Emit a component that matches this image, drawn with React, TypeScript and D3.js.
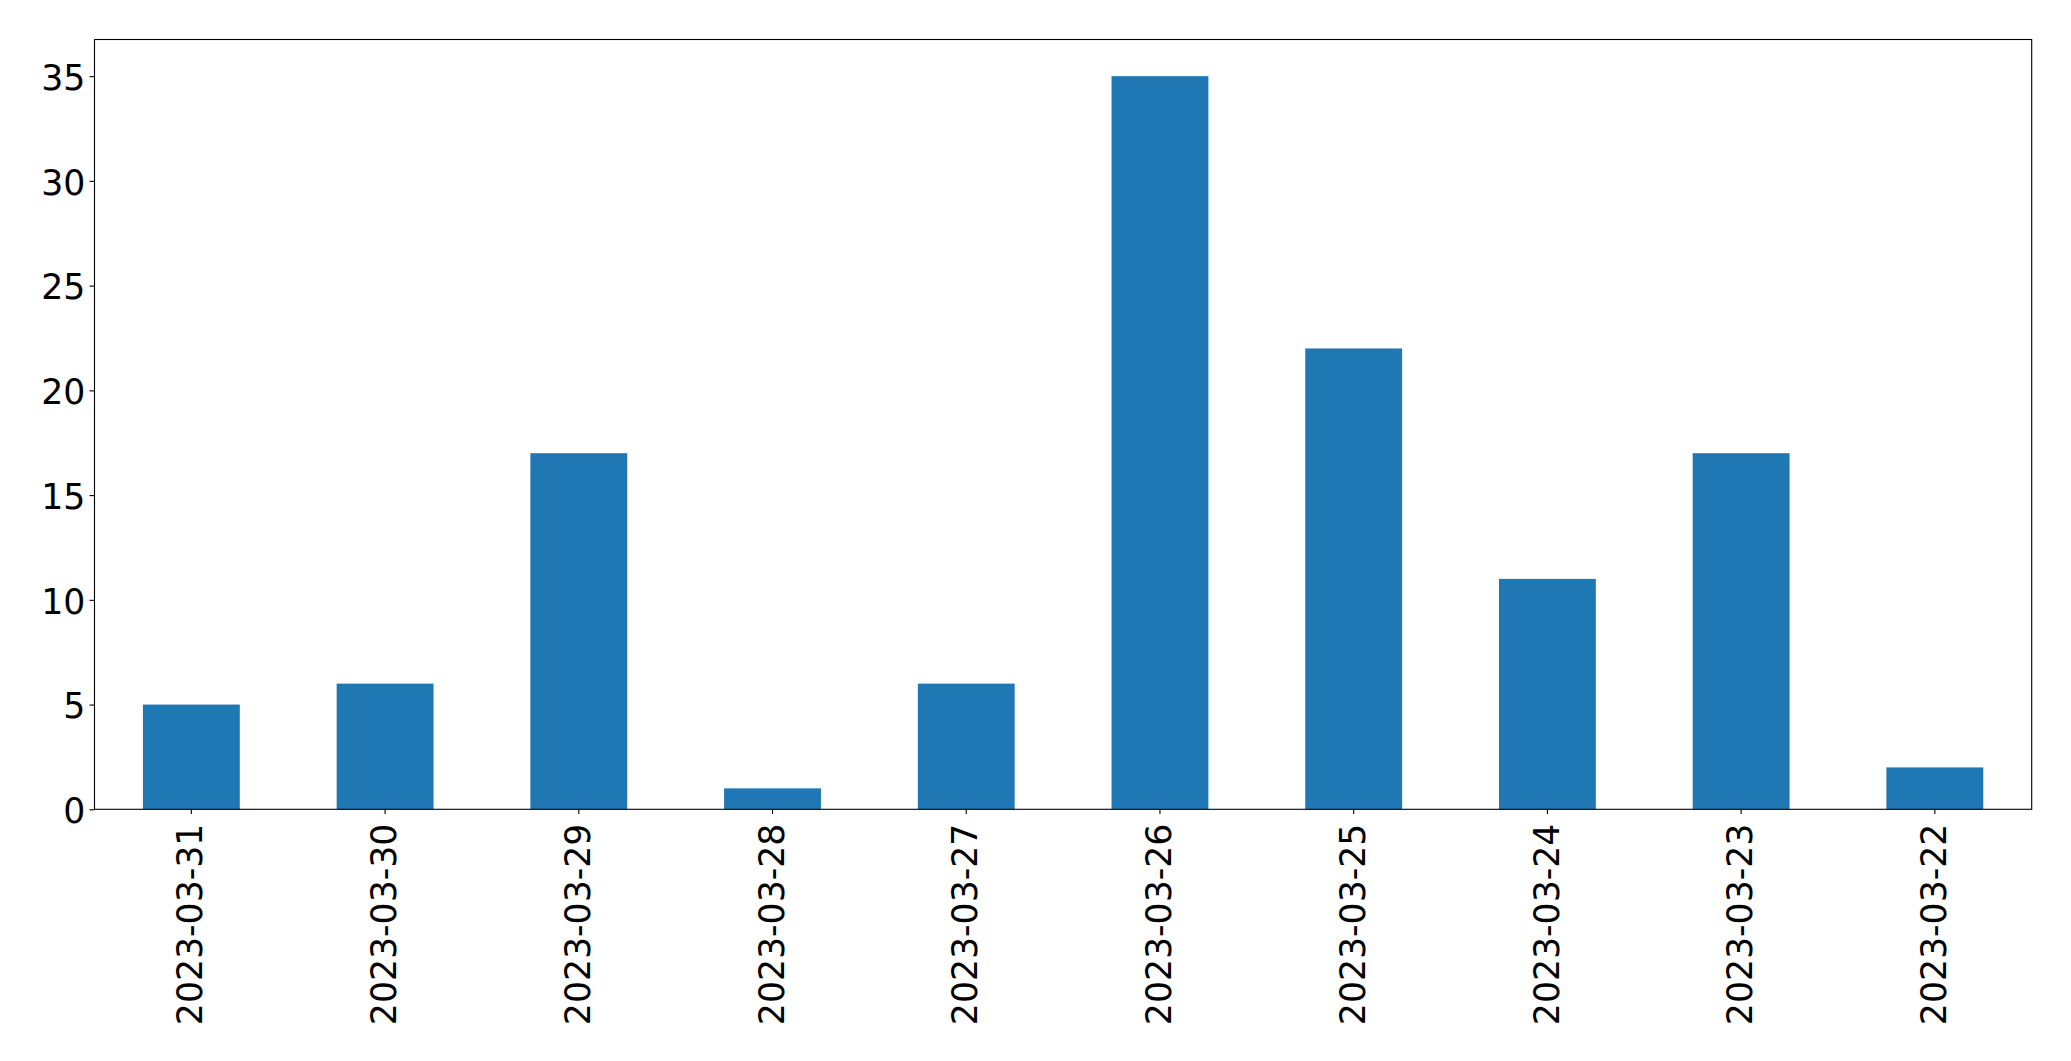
import { useEffect, useRef } from 'react';
import * as d3 from 'd3';

const categories = [
  '2023-03-31', '2023-03-30', '2023-03-29', '2023-03-28', '2023-03-27',
  '2023-03-26', '2023-03-25', '2023-03-24', '2023-03-23', '2023-03-22',
];
const counts = [5, 6, 17, 1, 6, 35, 22, 11, 17, 2];
const yTicks = [0, 5, 10, 15, 20, 25, 30, 35];

const WIDTH = 2071;
const HEIGHT = 1061;

export default function App() {
  const svgRef = useRef<SVGSVGElement>(null);

  useEffect(() => {
    if (!svgRef.current) return;
    d3.select(svgRef.current).selectAll('*').remove();

    const margin = { top: 39.5, right: 2071 - 2031.7, bottom: 1061 - 809.3, left: 94.5 };
    const width = WIDTH - margin.left - margin.right;
    const height = HEIGHT - margin.top - margin.bottom;

    const svg = d3.select(svgRef.current);
    const g = svg.append('g')
      .attr('transform', `translate(${margin.left},${margin.top})`);

    // pandas-style bar layout: band per category, bar 0.5 wide
    const xScale = d3.scaleBand()
      .domain(categories)
      .range([0, width])
      .paddingInner(0.5)
      .paddingOuter(0.25);

    const yMax = (d3.max(counts) || 0) * 1.05;
    const yScale = d3.scaleLinear()
      .domain([0, yMax])
      .range([height, 0]);

    // Bars
    g.selectAll('.bar')
      .data(counts)
      .join('rect')
      .attr('class', 'bar')
      .attr('x', (_, i) => xScale(categories[i]) || 0)
      .attr('y', d => yScale(d))
      .attr('width', xScale.bandwidth())
      .attr('height', d => height - yScale(d))
      .attr('fill', '#1f77b4');

    const fontSize = '34.7px';

    // X axis
    const xAxis = g.append('g')
      .attr('transform', `translate(0,${height})`)
      .call(d3.axisBottom(xScale).tickSize(4.6).tickPadding(4.9).tickSizeOuter(0));
    xAxis.select('.domain').remove();
    xAxis.selectAll('line').attr('stroke', '#000').attr('stroke-width', 1.1);
    xAxis.selectAll('text')
      .attr('transform', 'rotate(-90)')
      .attr('x', -14.3)
      .attr('y', 0)
      .attr('dy', '0.32em')
      .style('text-anchor', 'end')
      .style('font-size', fontSize)
      .style('font-family', '"DejaVu Sans", sans-serif')
      .style('fill', '#000');

    // Y axis
    const yAxis = g.append('g')
      .call(d3.axisLeft(yScale).tickValues(yTicks).tickSize(5).tickPadding(4.2).tickSizeOuter(0));
    yAxis.select('.domain').remove();
    yAxis.selectAll('line').attr('stroke', '#000').attr('stroke-width', 1.1);
    yAxis.selectAll('text')
      .attr('dy', '0.38em')
      .style('font-size', fontSize)
      .style('font-family', '"DejaVu Sans", sans-serif')
      .style('fill', '#000');

    // Frame
    g.append('rect')
      .attr('x', 0)
      .attr('y', 0)
      .attr('width', width)
      .attr('height', height)
      .attr('fill', 'none')
      .attr('stroke', '#000')
      .attr('stroke-width', 1.1);
  }, []);

  return (
    <svg
      ref={svgRef}
      width={WIDTH}
      height={HEIGHT}
      style={{ position: 'absolute', left: 0, top: 0, background: '#fff' }}
    />
  );
}
